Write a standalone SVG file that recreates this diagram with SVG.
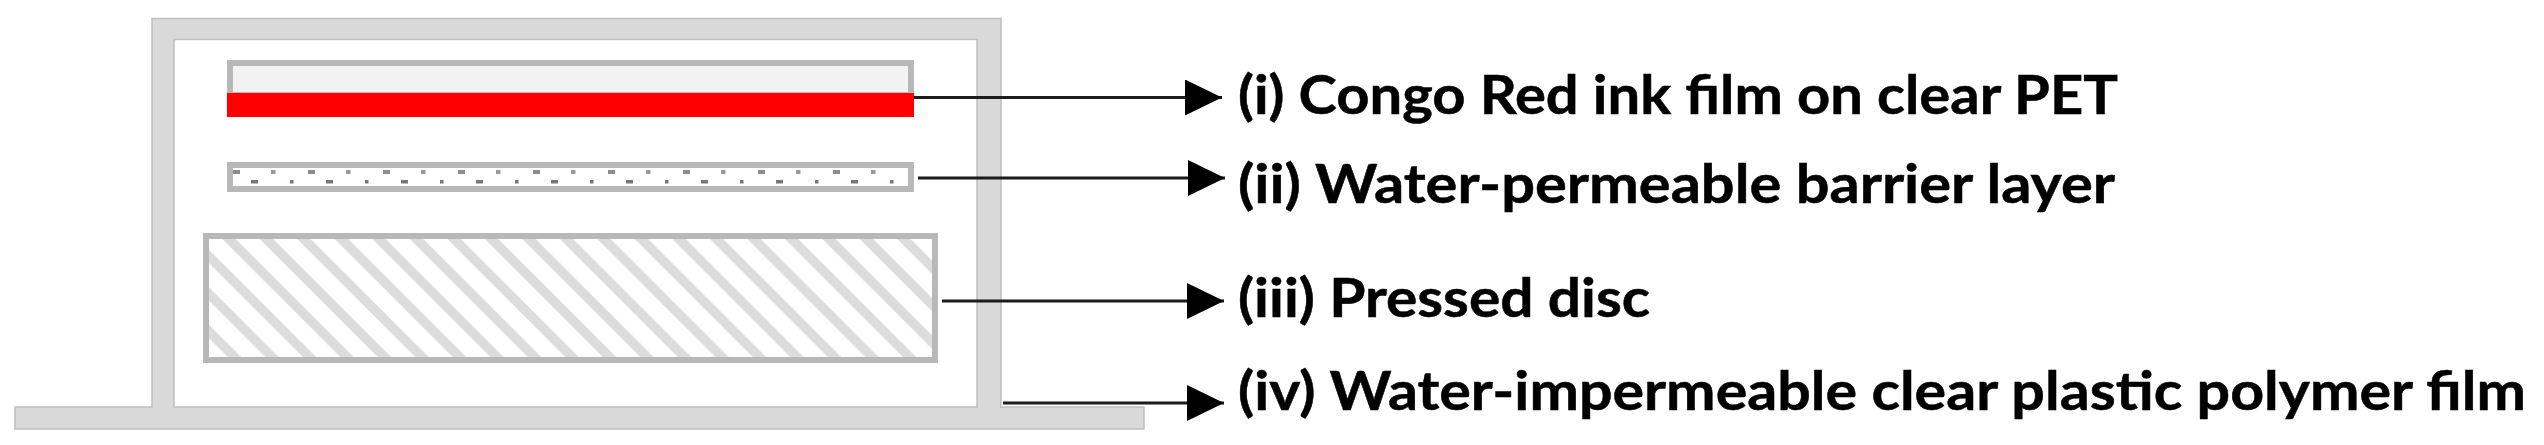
<svg xmlns="http://www.w3.org/2000/svg" width="2544" height="445" viewBox="0 0 2544 445">
<style>
.frame{fill:#d9d9d9;stroke:#bfbfbf;stroke-width:1.5;fill-rule:evenodd}
.box{stroke:#b8b8b8;stroke-width:6}
.conn{stroke:#1a1a1a;stroke-width:3;fill:none;marker-end:url(#head)}
.label{font-family:"Lato","Liberation Sans",sans-serif;font-weight:700;font-size:54px;fill:#000;stroke:#000;stroke-width:.5}
.soft{filter:url(#soft)}
</style>
<defs>
<filter id="soft" filterUnits="userSpaceOnUse" x="0" y="0" width="2544" height="445"><feGaussianBlur stdDeviation="0.7"/></filter>
<marker id="head" markerUnits="userSpaceOnUse" markerWidth="38" markerHeight="38" refX="37" refY="18" orient="auto">
<path d="M0 0L37 18L0 36Z" fill="#000"/>
</marker>
<pattern id="hatch" patternUnits="userSpaceOnUse" width="37.5" height="37.5" x="0" y="10">
<rect width="37.5" height="37.5" fill="#fff"/>
<path d="M-10 -10L47.5 47.5M-10 27.5L10 47.5M27.5 -10L47.5 10" stroke="#dcdcdc" stroke-width="9.5"/>
</pattern>
<pattern id="dots" patternUnits="userSpaceOnUse" width="75" height="30" x="227" y="165">
<rect x="6" y="5" width="7" height="4" fill="#8c8c8c"/>
<rect x="44" y="5" width="4.5" height="4" fill="#999"/>
<rect x="24" y="15" width="7" height="3.5" fill="#777"/>
<rect x="63" y="15" width="3.5" height="3.5" fill="#777"/>
</pattern>
</defs>
<g id="film-iv" class="soft">
<path class="frame" d="M15 407H152V18.5H1001V407H1144V429H15ZM174 39.5V407H977V39.5Z"/>
</g>
<g id="layer-i" class="soft">
<rect class="box" x="230" y="63" width="681" height="32" fill="#f2f2f2"/>
<rect x="227" y="93" width="687" height="24" fill="#ff0000"/>
</g>
<g id="layer-ii" class="soft">
<rect x="230" y="165" width="681" height="24" fill="#fff"/>
<rect x="230" y="165" width="681" height="24" fill="url(#dots)"/>
<rect class="box" x="230" y="165" width="681" height="24" fill="none"/>
</g>
<g id="layer-iii" class="soft">
<rect class="box" x="206" y="236" width="729" height="124" fill="url(#hatch)"/>
</g>
<g id="connectors" class="soft">
<path class="conn" d="M914 97.5H1222"/>
<path class="conn" d="M918 178H1225"/>
<path class="conn" d="M942 301H1224"/>
<path class="conn" d="M1003 403H1224"/>
</g>
<g id="label-i" class="soft"><text class="label" x="1238" y="114" textLength="880" lengthAdjust="spacingAndGlyphs">(i) Congo Red ink film on clear PET</text></g>
<g id="label-ii" class="soft"><text class="label" x="1238" y="203" textLength="877" lengthAdjust="spacingAndGlyphs">(ii) Water-permeable barrier layer</text></g>
<g id="label-iii" class="soft"><text class="label" x="1238" y="317" textLength="412" lengthAdjust="spacingAndGlyphs">(iii) Pressed disc</text></g>
<g id="label-iv" class="soft"><text class="label" x="1238" y="410" textLength="1288" lengthAdjust="spacingAndGlyphs">(iv) Water-impermeable clear plastic polymer film</text></g>
</svg>
